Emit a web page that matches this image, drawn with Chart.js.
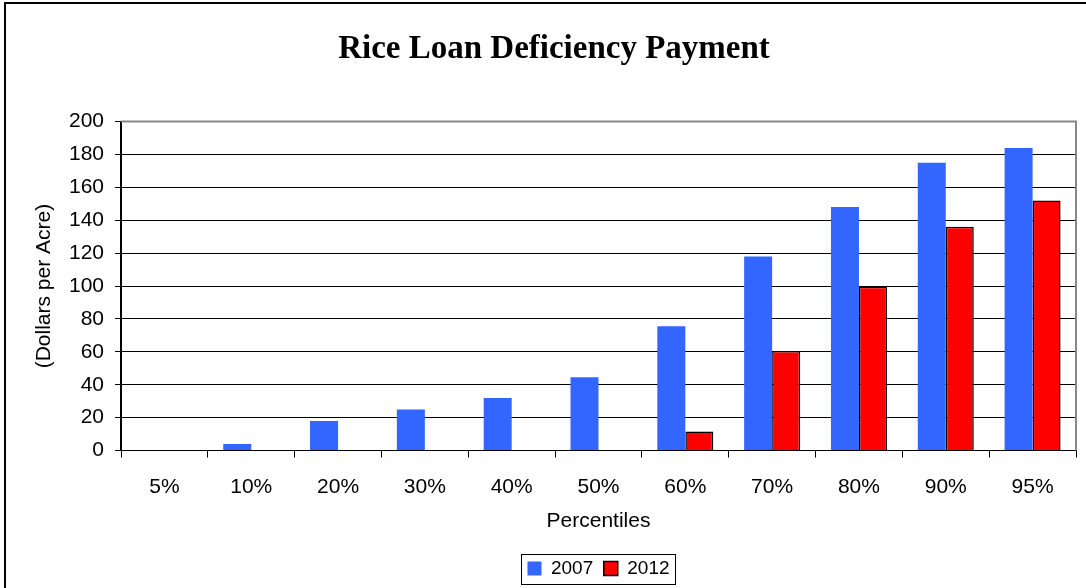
<!DOCTYPE html>
<html>
<head>
<meta charset="utf-8">
<script src="https://cdn.jsdelivr.net/npm/chart.js@4/dist/chart.umd.min.js"></script>
<style>
  body { margin: 0; background: #fff; }
  #wrap { width: 1086px; height: 588px; position: relative; }
</style>
</head>
<body>
<div id="wrap"><canvas id="myChart"></canvas></div>
<script>
var percentiles = ["5%", "10%", "20%", "30%", "40%", "50%", "60%", "70%", "80%", "90%", "95%"];
var pay2007 = [0, 4, 18, 25, 32, 44.5, 75.5, 118, 148, 175, 184];
var pay2012 = [0, 0, 0, 0, 0, 0, 11.5, 60.5, 99.5, 136, 152];
var yTicks = [0, 20, 40, 60, 80, 100, 120, 140, 160, 180, 200];

var sans = "'Liberation Sans', Arial, sans-serif";

// frame, plot border and legend box
var decor = {
  id: 'decor',
  afterDraw: function(chart){
    var c = chart.ctx, a = chart.chartArea, lg = chart.legend;
    c.save();
    c.strokeStyle = '#000';
    c.lineWidth = 2;
    c.beginPath();
    c.moveTo(5, 588); c.lineTo(5, 3); c.lineTo(1086, 3);
    c.stroke();
    c.strokeStyle = '#888';
    c.lineWidth = 2;
    c.beginPath();
    c.moveTo(a.left, a.top); c.lineTo(a.right, a.top); c.lineTo(a.right, a.bottom);
    c.stroke();
    if (lg && lg.legendHitBoxes.length){
      var hb = lg.legendHitBoxes;
      var last = hb[hb.length-1];
      var x0 = hb[0].left - 6, x1 = last.left + last.width + 6;
      var cy = hb[0].top + hb[0].height / 2;
      c.strokeStyle = '#000';
      c.lineWidth = 1;
      c.strokeRect(Math.round(x0)+0.5, Math.round(cy - 15)+0.5, Math.round(x1-x0), 30);
    }
    c.restore();
  }
};

var chartdata = {
  labels: percentiles,
  datasets: [{
    label: "2007",
    backgroundColor: "#3366FF",
    borderWidth: 0,
    data: pay2007
  },{
    label: "2012",
    backgroundColor: "#FF0000",
    borderColor: "#000",
    borderWidth: 1.5,
    data: pay2012
  }]
};

var ctx = document.getElementById('myChart');
new Chart(ctx, {
  type: 'bar',
  data: chartdata,
  plugins: [decor],
  options: {
    responsive: true,
    maintainAspectRatio: false,
    animation: false,
    layout: { padding: { left: 32, right: 10, top: 0, bottom: 0 } },
    datasets: { bar: { barPercentage: 1, categoryPercentage: 0.645 } },
    plugins: {
      title: {
        display: true,
        text: "Rice Loan Deficiency Payment",
        color: '#000',
        font: { family: "'Liberation Serif', 'Times New Roman', serif", size: 33, weight: 'bold' },
        padding: { top: 30, bottom: 52 }
      },
      legend: {
        display: true,
        position: 'bottom',
        fullSize: false,
        labels: {
          color: '#000',
          boxWidth: 14,
          boxHeight: 14,
          padding: 10.5,
          font: { family: sans, size: 19 }
        }
      },
      tooltip: { enabled: false }
    },
    scales: {
      x: {
        afterFit: function(s){ s.height = 98; },
        grid: { offset: true, drawOnChartArea: false, drawTicks: true, tickLength: 7, color: '#000' },
        border: { color: '#000', width: 1 },
        ticks: { color: '#000', padding: 17, maxRotation: 0, font: { family: sans, size: 21 } },
        title: { display: true, text: 'Percentiles', color: '#000', padding: { top: 4, bottom: 15 },
          font: { family: sans, size: 21 } }
      },
      y: {
        min: 0,
        max: 200,
        afterBuildTicks: function(s){ s.ticks = yTicks.map(function(v){ return { value: v }; }); },
        afterFit: function(s){ s.width = 89; },
        grid: { color: '#000', lineWidth: 1, tickLength: 6 },
        border: { color: '#000', width: 2 },
        ticks: { color: '#000', padding: 11, font: { family: sans, size: 21 } },
        title: { display: true, text: '(Dollars per Acre)', color: '#000', padding: { top: 0, bottom: 0 },
          font: { family: sans, size: 21 } }
      }
    }
  }
});
</script>
</body>
</html>
